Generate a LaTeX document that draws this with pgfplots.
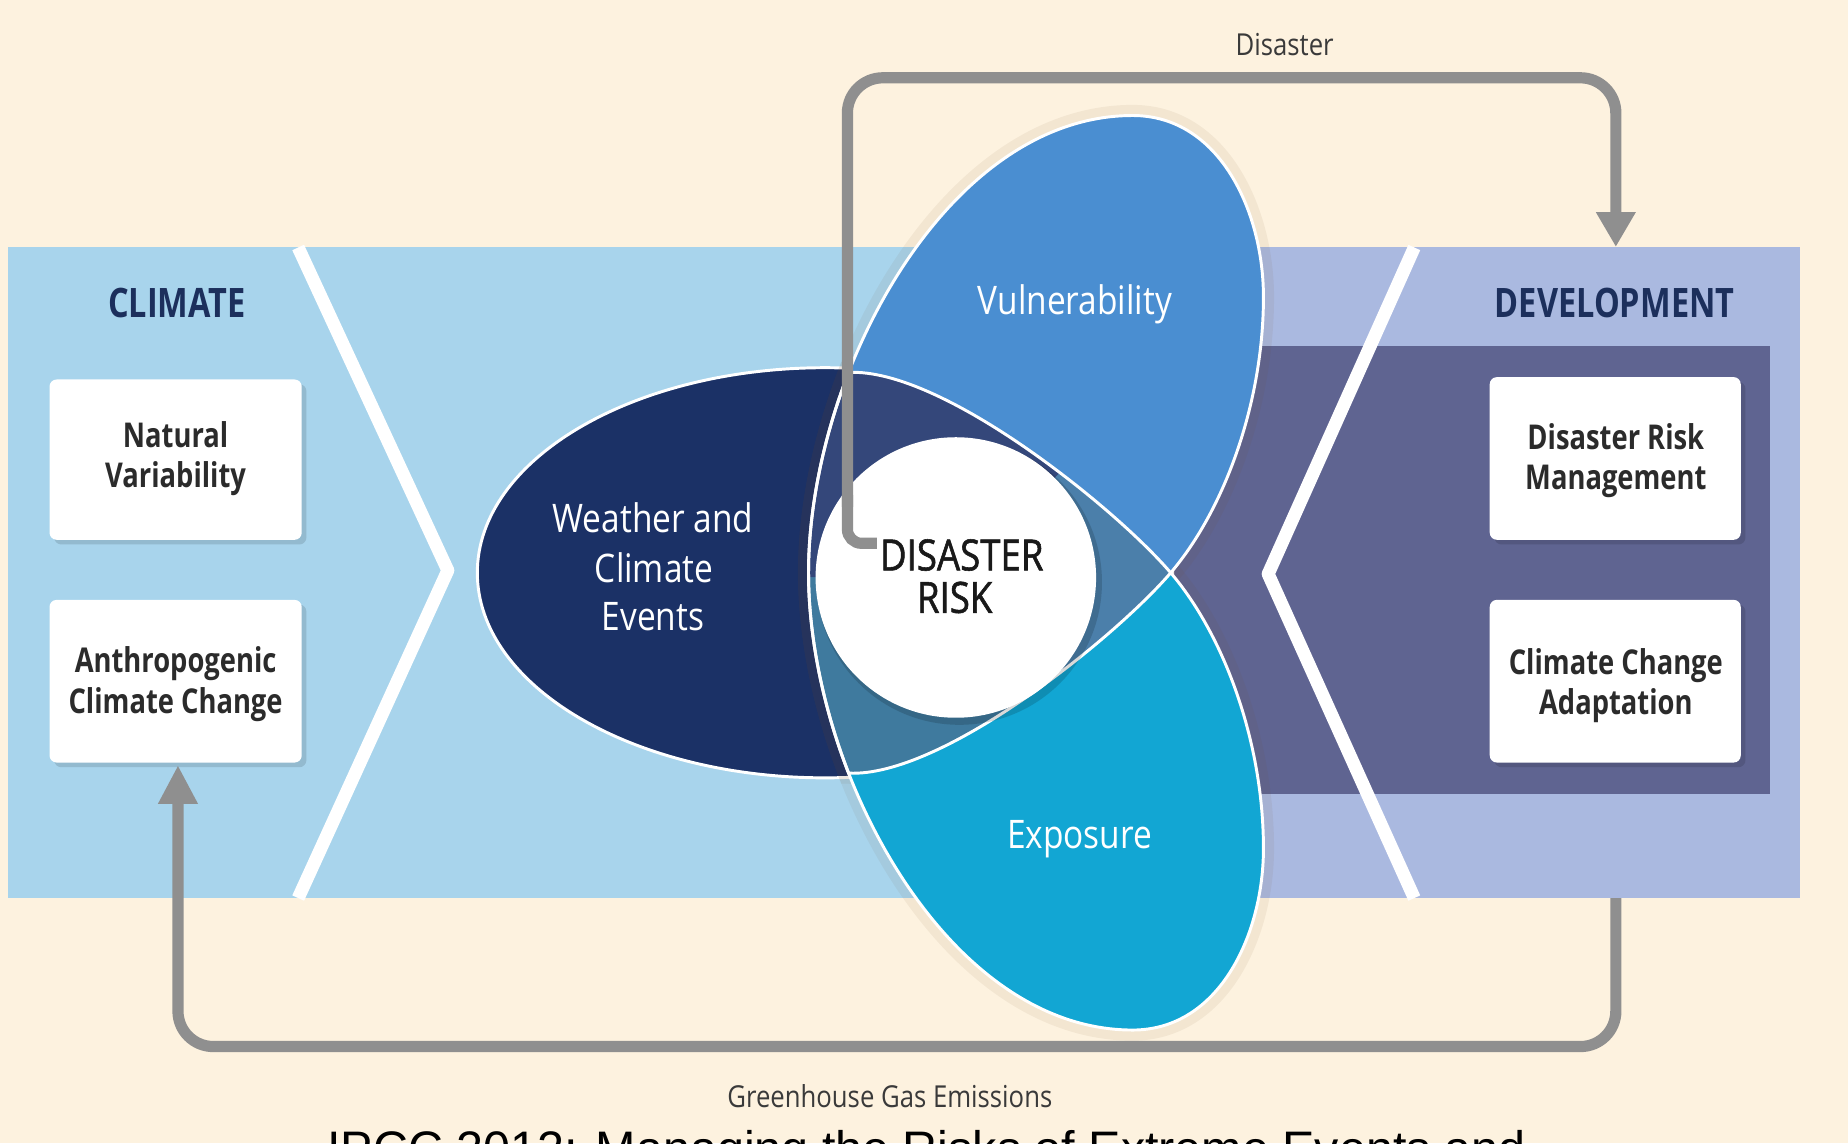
\documentclass[border=0pt]{standalone}
\usepackage{pgfplots}
\pgfplotsset{compat=1.18}
\usepackage{fontspec}
\setmainfont{Open Sans}
\newfontfamily\condf[FakeStretch=0.85]{Open Sans}
\newfontfamily\condb[FakeStretch=0.85, FakeBold=1.3]{Open Sans}
\newfontfamily\boldf[FakeStretch=0.8]{Open Sans}
\newfontfamily\capf{Liberation Sans}

\definecolor{cream}{HTML}{FDF2DF}
\definecolor{lblue}{HTML}{A8D4EC}
\definecolor{lav}{HTML}{AAB9E0}
\definecolor{slate}{HTML}{5F6491}
\definecolor{navy}{HTML}{1B3166}
\definecolor{vuln}{HTML}{4A8ED1}
\definecolor{expo}{HTML}{12A6D3}
\definecolor{ovWV}{HTML}{34477A}
\definecolor{ovWE}{HTML}{3F7A9E}
\definecolor{ovVE}{HTML}{4B7FAA}
\definecolor{arrowgray}{HTML}{8F8F8F}
\definecolor{titlenavy}{HTML}{1C2F5C}
\definecolor{boxtext}{HTML}{2B2B2B}
\definecolor{labgray}{HTML}{3A3A3A}

% petal outlines, in picture pixels (y downwards); exposure is vulnerability mirrored at y=486
\def\vulnpath{(720,656) .. controls (698,599.4) and (686,539.1) .. (686,486)
  .. controls (686,432.9) and (698,372.6) .. (720,316)
  .. controls (765.5,200.1) and (853,98) .. (961,98)
  .. controls (1035,98) and (1072,180) .. (1072,252)
  .. controls (1072,340) and (1040,430) .. (995,484)
  .. controls (950,538) and (800,660) .. (720,656) -- cycle}
\def\expopath{(720,316) .. controls (698,372.6) and (686,432.9) .. (686,486)
  .. controls (686,539.1) and (698,599.4) .. (720,656)
  .. controls (765.5,771.9) and (853,874) .. (961,874)
  .. controls (1035,874) and (1072,792) .. (1072,720)
  .. controls (1072,632) and (1040,542) .. (995,488)
  .. controls (950,434) and (800,312) .. (720,316) -- cycle}

\begin{document}
\begin{tikzpicture}
\begin{axis}[
  width=156.8mm, height=97mm, scale only axis,
  xmin=0, xmax=1568, ymin=0, ymax=970, y dir=reverse,
  enlargelimits=false, hide axis, clip=false,
  every node/.style={inner sep=0pt},
]
% background and bands
\fill[cream] (0,0) rectangle (1568,970);
\fill[lblue] (7,210) rectangle (1000,762);
\fill[lav] (1000,210) rectangle (1527,762);
\fill[slate] (960,294) rectangle (1502,674);
% chevrons
\draw[white, line width=1.1mm, line join=round] (253,210) -- (380,484) -- (253,762);
\draw[white, line width=1.1mm, line join=round] (1200,210) -- (1076,487) -- (1200,762);
% boxes
\fill[black, opacity=0.12, rounded corners=0.6mm] (46,326) rectangle (260,462);
\fill[white, rounded corners=0.6mm] (42,322) rectangle (256,458);
\fill[black, opacity=0.12, rounded corners=0.6mm] (46,513) rectangle (260,651);
\fill[white, rounded corners=0.6mm] (42,509) rectangle (256,647);
\fill[black, opacity=0.12, rounded corners=0.6mm] (1268,324) rectangle (1481,462);
\fill[white, rounded corners=0.6mm] (1264,320) rectangle (1477,458);
\fill[black, opacity=0.12, rounded corners=0.6mm] (1268,513) rectangle (1481,651);
\fill[white, rounded corners=0.6mm] (1264,509) rectangle (1477,647);
% weather and climate events
\fill[navy] (700,486) ellipse[x radius=29.5mm, y radius=17.4mm];
\draw[white, line width=0.25mm] (700,486) ellipse[x radius=29.5mm, y radius=17.4mm];
% vulnerability and exposure
\draw[brown!60!black, opacity=0.07, line width=1.8mm] \vulnpath;
\draw[brown!60!black, opacity=0.07, line width=1.8mm] \expopath;
\fill[vuln] \vulnpath;
\fill[expo] \expopath;
\begin{scope}
  \clip \vulnpath;
  \fill[ovVE] \expopath;
  \clip \expopath;
  \fill[ovWV] (811,490) -- (930,370) -- (930,250) -- (600,250) -- (600,490) -- cycle;
  \fill[ovWE] (811,490) -- (930,610) -- (930,730) -- (600,730) -- (600,490) -- cycle;
\end{scope}
\draw[white, line width=0.25mm] \vulnpath;
\draw[white, line width=0.25mm] \expopath;
% disaster risk
\fill[black, opacity=0.15] (814,494) circle[radius=12.1mm];
\fill[white] (811,490) circle[radius=11.9mm];
% arrows
\draw[arrowgray, line width=0.95mm, rounded corners=1.2mm] (744,461) -- (719,461) -- (719,420);
\draw[arrowgray, line width=0.95mm, rounded corners=3mm] (719,430) -- (719,66) -- (1371,66) -- (1371,185);
\fill[arrowgray] (1354,180) -- (1388,180) -- (1371,209) -- cycle;
\draw[arrowgray, line width=0.95mm, rounded corners=3mm] (1371,762) -- (1371,888) -- (151,888) -- (151,682);
\fill[arrowgray] (134,682) -- (168,682) -- (151,650) -- cycle;
% headings
\node[anchor=base, text=titlenavy, font=\boldf\bfseries\fontsize{9.8}{12}\selectfont] at (150,269) {CLIMATE};
\node[anchor=base, text=titlenavy, font=\boldf\bfseries\fontsize{9.8}{12}\selectfont] at (1370,269) {DEVELOPMENT};
% box texts
\begin{scope}[every node/.append style={anchor=base, text=boxtext, font=\boldf\bfseries\fontsize{8.25}{10}\selectfont}]
\node at (149,380) {Natural};
\node at (149,414) {Variability};
\node at (149,571) {Anthropogenic};
\node at (149,605) {Climate Change};
\node at (1371,381) {Disaster Risk};
\node at (1371,415) {Management};
\node at (1371,572) {Climate Change};
\node at (1371,606) {Adaptation};
\end{scope}
% petal labels
\begin{scope}[every node/.append style={anchor=base, text=white, font=\condf\fontsize{9.5}{11}\selectfont}]
\node at (554,452) {Weather and};
\node at (555,494) {Climate};
\node at (554,535) {Events};
\node at (912,267) {Vulnerability};
\node at (916,720) {Exposure};
\end{scope}
\node[anchor=base, text=black!90, font=\condb\fontsize{10.4}{11}\selectfont] at (816,484) {DISASTER};
\node[anchor=base, text=black!90, font=\condb\fontsize{10.4}{11}\selectfont] at (810,520) {RISK};
% arrow labels
\node[anchor=base, text=labgray, font=\condf\fontsize{7.3}{9}\selectfont] at (1090,47) {Disaster};
\node[anchor=base, text=labgray, font=\condf\fontsize{7.3}{9}\selectfont] at (755,940) {Greenhouse Gas Emissions};
% caption, cut by the lower edge as in the source
\node[overlay, anchor=base, text=black, font=\capf\fontsize{11.7}{14}\selectfont] at (786,989) {IPCC 2012: Managing the Risks of Extreme Events and};
\end{axis}
\end{tikzpicture}
\end{document}
